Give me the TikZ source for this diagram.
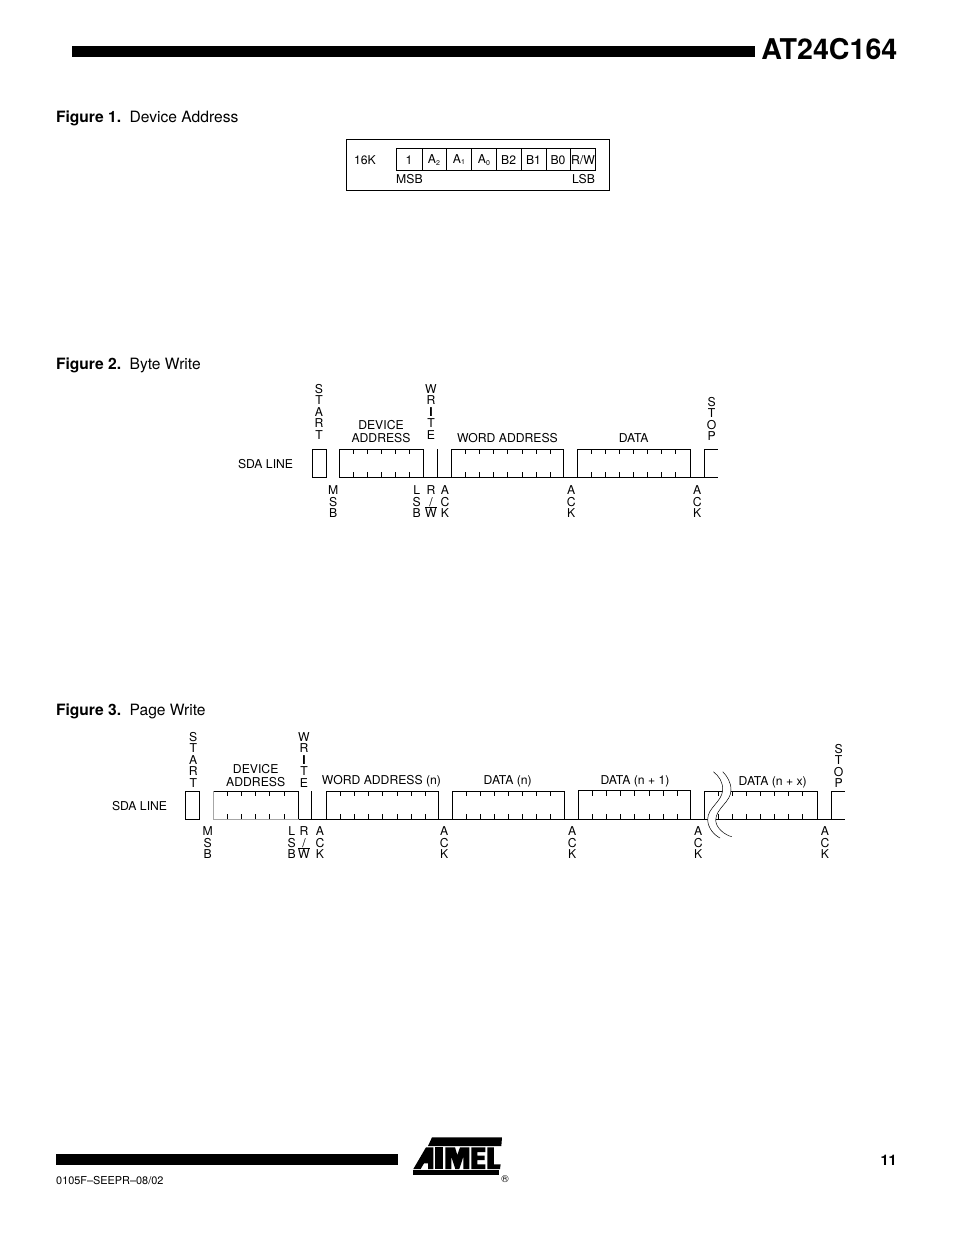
\documentclass[tikz,border=0pt]{standalone}
\usepackage{fontspec}
\setmainfont{TeX Gyre Heros}
\tikzset{
  x=1pt,y=-1pt,
  wave/.style={line width=1pt,black,line cap=butt,line join=miter},
  lab/.style={inner sep=0pt,outer sep=0pt,anchor=base,font=\fontsize{12.2}{13}\selectfont},
  lableft/.style={lab,anchor=base west},
  stack/.style={inner sep=0pt,outer sep=0pt,anchor=north,align=center,font=\fontsize{12.2}{11.5}\selectfont},
  two/.style={inner sep=0pt,outer sep=0pt,anchor=north,align=center,font=\fontsize{12.2}{13.2}\selectfont},
  figcap/.style={inner sep=0pt,outer sep=0pt,anchor=base west,font=\fontsize{15.6}{17}\selectfont},
  bar/.style={fill=black,draw=none},
  logo/.style={fill=black,draw=none},
}
\newcommand{\ticks}[3]{% x start, count, top y
  \foreach \k in {1,...,#2}{
    \draw[wave] ({#1+\k*14.07},#3) -- ++(0,5);
    \draw[wave] ({#1+\k*14.07},#3+28.3) -- ++(0,-5);
  }}
\begin{document}
\begin{tikzpicture}
\useasboundingbox (0,0) rectangle (954,1235);
\fill[white] (0,0) rectangle (954,1235);
% header / footer
\fill[bar] (72,46) rectangle (755,57);
\node[inner sep=0pt,anchor=base east,font=\fontsize{28.6}{30}\selectfont\bfseries] (title) at (897.5,59.5) {AT24C164};
\fill[bar] (56,1154) rectangle (398,1165);
\node[inner sep=0pt,anchor=base west,font=\fontsize{10.9}{12}\selectfont] (docno) at (56,1184) {0105F–SEEPR–08/02};
\node[inner sep=0pt,anchor=base east,font=\fontsize{14.6}{15}\selectfont\bfseries] (pageno) at (897,1165) {11};
% captions
\node[figcap] (f1) at (56,122) {\textbf{Figure 1.}\hspace{0.55em}Device Address};
\node[figcap] (f2) at (56,369) {\textbf{Figure 2.}\hspace{0.55em}Byte Write};
\node[figcap] (f3) at (56,715) {\textbf{Figure 3.}\hspace{0.55em}Page Write};
% ---------- Figure 1
\draw[line width=0.8pt] (346.5,139.5) rectangle (609,190);
\draw[wave] (396.7,148.5) rectangle (595.5,170.7);
\foreach \x in {422,446.7,471.7,496.7,521,546,570.7}{\draw[wave] (\x,148.5) -- (\x,170.7);}
\node[lableft] (k16) at (354,164.6) {16K};
\node[lab] (b7) at (409,164.4) {1};
\node[lab] (b6) at (434,163.6) {A\raisebox{-1.5pt}{\fontsize{7}{8}\selectfont 2}};
\node[lab] (b5) at (459,163.2) {A\raisebox{-1.5pt}{\fontsize{7}{8}\selectfont 1}};
\node[lab] (b4) at (484,163.6) {A\raisebox{-1.5pt}{\fontsize{7}{8}\selectfont 0}};
\node[lab] (b3) at (508.7,164.4) {B2};
\node[lab] (b2) at (533.5,164.4) {B1};
\node[lab] (b1) at (558,164.4) {B0};
\node[lab] (b0) at (583,164.0) {R/W};
\node[lableft] (msb1) at (396.2,183.6) {MSB};
\node[lab,anchor=base east] (lsb1) at (595,183.6) {LSB};
% ---------- Figure 2
\draw[wave] (326.7,477.3) -- (312.3,477.3) -- (312.3,449) -- (326.7,449) -- (326.7,477.3);
\draw[wave] (339.3,477.3) -- (339.3,449) -- (423.7,449) -- (423.7,477.3);
\draw[wave] (339.3,477.3) -- (718,477.3);
\draw[wave] (437.7,449) -- (437.7,477.3);
\draw[wave] (451.7,477.3) -- (451.7,449) -- (563.7,449) -- (563.7,477.3);
\draw[wave] (577.3,477.3) -- (577.3,449) -- (690.7,449) -- (690.7,477.3);
\draw[wave] (704.3,477.3) -- (704.3,449) -- (718,449);
\ticks{339.3}{5}{449}
\ticks{451.7}{7}{449}
\ticks{577.3}{7}{449}
\node[stack] (start2) at (319,384.3) {S\\T\\A\\R\\T};
\node[stack] (write2) at (431,384.3) {W\\R\\\textbf{I}\\T\\E};
\node[two] (dev2) at (381,420) {DEVICE\\ADDRESS};
\node[lab] (word2) at (507.5,442.6) {WORD ADDRESS};
\node[lab] (data2) at (633.7,442.6) {DATA};
\node[stack] (stop2) at (711.7,397.3) {S\\T\\O\\P};
\node[lab,anchor=base west] (sda2) at (238,468.3) {SDA LINE};
\node[stack] (msb2) at (333.3,485.7) {M\\S\\B};
\node[stack] (lsb2) at (416.7,485.7) {L\\S\\B};
\node[stack] (rw2) at (431,485.7) {R\\/\\$\overline{\hbox{W}}$};
\node[stack] (ack2a) at (445,485.7) {A\\C\\K};
\node[stack] (ack2b) at (571.3,485.7) {A\\C\\K};
\node[stack] (ack2c) at (697.3,485.7) {A\\C\\K};
% ---------- Figure 3
\draw[wave] (199.7,819.3) -- (185.3,819.3) -- (185.3,791) -- (199.7,791) -- (199.7,819.3);
\draw[wave,black!35] (213.7,791) -- (213.7,819.3) -- (298.7,819.3);
\draw[wave] (213.7,791) -- (298.7,791) -- (298.7,819.3);
\draw[wave] (298.7,819.3) -- (845,819.3);
\draw[wave] (311.3,791) -- (311.3,819.3);
\draw[wave] (326.7,819.3) -- (326.7,791) -- (438.7,791) -- (438.7,819.3);
\draw[wave] (452.3,819.3) -- (452.3,791) -- (564.7,791) -- (564.7,819.3);
\draw[wave] (578.7,819.3) -- (578.7,790.4) -- (690.7,790.4) -- (690.7,819.3);
\draw[wave] (704.3,819.3) -- (704.3,791) -- (817.7,791) -- (817.7,819.3);
\draw[wave] (831.3,819.3) -- (831.3,791) -- (845,791);
\ticks{213.7}{5}{791}
\ticks{326.7}{7}{791}
\ticks{452.3}{7}{791}
\ticks{578.7}{7}{791}
\ticks{704.3}{7}{791}
% break mark
\fill[white] (713.3,771.7) .. controls (719,776) and (723,782) .. (722.7,790)
   .. controls (722,802) and (707,808) .. (707.7,820)
   .. controls (708,828) and (714,835) .. (720,838)
   -- (731.7,836.7) .. controls (725,835) and (715.7,828) .. (715.7,820)
   .. controls (716,808) and (731,802) .. (731,790)
   .. controls (731,782) and (727,776) .. (722.7,771.7) -- cycle;
\draw[line width=0.5pt] (713.3,771.7) .. controls (719,776) and (723,782) .. (722.7,790)
   .. controls (722,802) and (707,808) .. (707.7,820)
   .. controls (708,828) and (714,835) .. (720,838);
\draw[line width=0.5pt] (722.7,771.7) .. controls (727,776) and (731,782) .. (731,790)
   .. controls (731,802) and (716,808) .. (715.7,820)
   .. controls (715.7,828) and (725,835) .. (731.7,836.7);
\node[stack] (start3) at (193.3,732.3) {S\\T\\A\\R\\T};
\node[stack] (write3) at (304,732.3) {W\\R\\\textbf{I}\\T\\E};
\node[two] (dev3) at (255.7,764.3) {DEVICE\\ADDRESS};
\node[lab] (word3) at (381.5,784.6) {WORD ADDRESS (n)};
\node[lab] (data3a) at (507.7,784.6) {DATA (n)};
\node[lab] (data3b) at (635,784.6) {DATA (n + 1)};
\node[lab] (data3c) at (772.7,785.2) {DATA (n + x)};
\node[stack] (stop3) at (838.7,744) {S\\T\\O\\P};
\node[lab,anchor=base west] (sda3) at (112,810) {SDA LINE};
\node[stack] (msb3) at (207.7,826.7) {M\\S\\B};
\node[stack] (lsb3) at (291.7,826.7) {L\\S\\B};
\node[stack] (rw3) at (304,826.7) {R\\/\\$\overline{\hbox{W}}$};
\node[stack] (ack3a) at (320,826.7) {A\\C\\K};
\node[stack] (ack3b) at (444.3,826.7) {A\\C\\K};
\node[stack] (ack3c) at (572.3,826.7) {A\\C\\K};
\node[stack] (ack3d) at (698.3,826.7) {A\\C\\K};
\node[stack] (ack3e) at (825,826.7) {A\\C\\K};
% ---------- Logo
\begin{scope}[shift={(400,1130)},x=0.3333pt,y=-0.3333pt]
 \fill[logo] (96,22) -- (306,22) -- (304,48) -- (84,48) -- cycle;
 % A
 \fill[logo] (40,117) -- (62,117) -- (72,100) -- (84,100) -- (84,117) -- (100,117) -- (100,52) -- (78,52) -- cycle;
 % T
 \fill[logo] (106,52) -- (130,52) -- (130,117) -- (106,117) -- cycle;
 % M
 \fill[logo] (136,52) -- (165,52) -- (172,75) -- (180,52) -- (208,52) -- (208,117) -- (190,117) -- (190,80) -- (178,117) -- (166,117) -- (154,80) -- (154,117) -- (136,117) -- cycle;
 % E
 \fill[logo] (214,52) -- (256,52) -- (256,66) -- (232,66) -- (232,77) -- (254,77) -- (254,90) -- (232,90) -- (232,103) -- (256,103) -- (256,117) -- (214,117) -- cycle;
 % L
 \fill[logo] (262,52) -- (282,52) -- (282,103) -- (302,103) -- (300,117) -- (262,117) -- cycle;
 % bottom bar
 \fill[logo] (40,121) -- (298,121) -- (298,134) -- (40,134) -- cycle;
\end{scope}
\node[inner sep=0pt,anchor=center,font=\fontsize{10}{11}\selectfont] (reg) at (505,1179.5) {®};
\end{tikzpicture}
\end{document}
